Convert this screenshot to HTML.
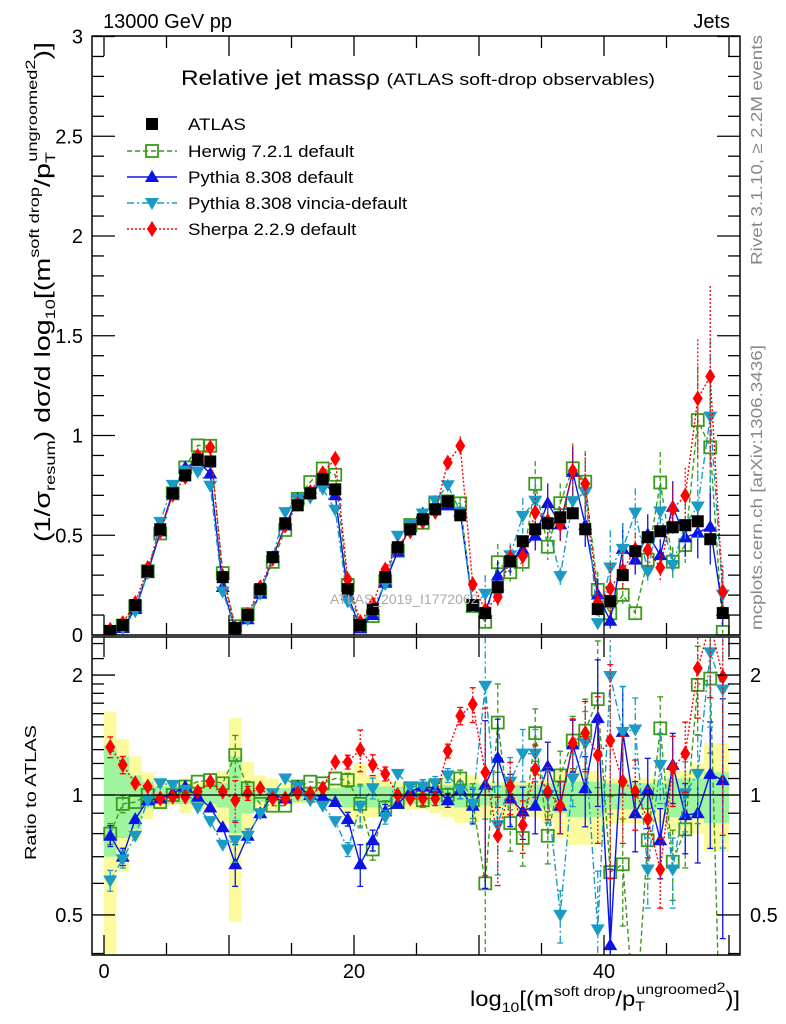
<!DOCTYPE html>
<html><head><meta charset="utf-8">
<style>
html,body{margin:0;padding:0;background:#fff;width:786px;height:1024px;overflow:hidden;}
svg{display:block;font-family:"Liberation Sans",Arial,sans-serif;}
</style></head>
<body>
<svg id="chart" width="786" height="1024" viewBox="0 0 786 1024" xmlns="http://www.w3.org/2000/svg">
<defs>
<clipPath id="clipMain"><rect x="92" y="36" width="648" height="599"/></clipPath>
<clipPath id="clipRatio"><rect x="92" y="637" width="648" height="318"/></clipPath>
</defs>
<text x="103" y="28" font-size="20">13000 GeV pp</text>
<text x="730" y="28" font-size="20" text-anchor="end">Jets</text>
<g id="ratioBands" clip-path="url(#clipRatio)"></g>
<g id="mainMarks" clip-path="url(#clipMain)"></g>
<g id="ratioMarks" clip-path="url(#clipRatio)"></g>
<g id="axes"></g>
<text x="181" y="85" font-size="21" textLength="474" lengthAdjust="spacingAndGlyphs">Relative jet massρ <tspan font-size="17">(ATLAS soft-drop observables)</tspan></text>
<text x="330" y="604" font-size="14" fill="#aaa">ATLAS_2019_I1772062</text>
<g id="legend"></g>
<text transform="translate(762,265) rotate(-90)" font-size="16" fill="#888" textLength="230" lengthAdjust="spacingAndGlyphs">Rivet 3.1.10, ≥ 2.2M events</text>
<text transform="translate(762,630) rotate(-90)" font-size="16" fill="#888" textLength="285" lengthAdjust="spacingAndGlyphs">mcplots.cern.ch [arXiv:1306.3436]</text>
<text transform="translate(50,542) rotate(-90)" font-size="22" textLength="500" lengthAdjust="spacingAndGlyphs">(1/σ<tspan font-size="14" dy="5">resum</tspan><tspan dy="-5">) dσ/d log</tspan><tspan font-size="14" dy="5">10</tspan><tspan dy="-5">[(m</tspan><tspan font-size="14" dy="-11">soft drop</tspan><tspan dy="11">/p</tspan><tspan font-size="14" dy="5">T</tspan><tspan font-size="14" dy="-18" dx="-7">ungroomed</tspan><tspan font-size="14" dy="-2">2</tspan><tspan dy="15">)]</tspan></text>
<text transform="translate(36,860) rotate(-90)" font-size="16" textLength="135" lengthAdjust="spacingAndGlyphs">Ratio to ATLAS</text>
<text x="470" y="1006" font-size="21" textLength="270" lengthAdjust="spacingAndGlyphs">log<tspan font-size="14" dy="6">10</tspan><tspan dy="-6">[(m</tspan><tspan font-size="14" dy="-10">soft drop</tspan><tspan dy="10">/p</tspan><tspan font-size="14" dy="5">T</tspan><tspan font-size="14" dy="-17" dx="-7">ungroomed</tspan><tspan font-size="14" dy="-2">2</tspan><tspan dy="14">)]</tspan></text>
</svg>
<script>
const atlas=[0.02,0.05,0.15,0.32,0.53,0.71,0.80,0.88,0.87,0.29,0.035,0.10,0.23,0.39,0.56,0.65,0.71,0.78,0.73,0.23,0.05,0.13,0.29,0.44,0.53,0.58,0.63,0.67,0.60,0.15,0.11,0.24,0.37,0.47,0.53,0.56,0.59,0.61,0.53,0.13,0.17,0.30,0.42,0.49,0.52,0.54,0.55,0.57,0.48,0.11];
const herwigRatio=[0.80,0.95,0.96,1.0,0.96,1.0,1.05,1.08,1.09,1.07,1.26,1.04,0.95,0.94,0.94,1.05,1.08,1.07,1.10,1.09,0.95,0.73,0.93,0.96,1.04,0.97,1.05,1.0,1.10,0.97,0.60,1.52,0.85,0.78,1.43,0.79,1.12,1.37,1.45,1.74,0.64,0.67,0.26,0.77,1.47,0.68,0.82,1.89,1.96,0.14];
const pythiaRatio=[0.79,0.70,0.87,0.97,0.98,1.01,1.05,0.99,0.93,0.83,0.67,0.79,0.90,1.0,0.98,1.05,1.0,0.99,0.96,0.87,0.67,0.77,0.91,0.95,1.02,1.05,1.04,0.97,1.03,0.94,1.06,1.24,0.98,0.91,0.94,1.18,0.94,1.34,1.04,1.56,0.42,1.44,0.90,1.03,0.77,1.19,0.89,0.90,1.13,1.09];
const vinciaRatio=[0.61,0.69,0.79,0.97,1.07,1.06,1.03,0.93,0.86,0.75,0.77,0.79,0.90,1.01,1.10,1.05,0.97,0.94,0.86,0.73,0.94,1.04,0.88,1.13,1.05,1.05,1.07,1.12,1.03,0.95,1.88,0.84,1.08,1.27,1.27,1.0,0.50,1.10,1.35,0.46,1.99,1.44,1.46,0.65,1.19,0.65,1.01,1.13,2.28,1.84];
const sherpaRatio=[1.32,1.19,1.07,1.05,0.98,0.99,0.99,1.02,1.08,1.02,0.97,1.01,1.04,0.98,0.98,1.01,1.01,1.04,1.21,1.21,1.30,1.19,1.13,1.0,0.98,0.98,0.98,1.29,1.58,1.69,1.14,0.79,1.05,0.84,1.16,1.02,0.94,1.35,1.43,1.26,1.37,1.08,1.02,0.87,0.65,1.17,1.27,2.08,2.70,1.98];
const mcErr=[0.06,0.05,0.03,0.02,0.02,0.02,0.02,0.02,0.02,0.03,0.12,0.04,0.03,0.02,0.02,0.02,0.02,0.02,0.02,0.04,0.12,0.06,0.04,0.03,0.03,0.04,0.04,0.04,0.05,0.10,0.45,0.25,0.15,0.15,0.15,0.15,0.15,0.15,0.20,0.40,0.55,0.30,0.20,0.20,0.20,0.20,0.20,0.25,0.35,0.60];
const yellowHi=[1.62,1.38,1.25,1.14,1.10,1.06,1.10,1.08,1.07,1.15,1.56,1.21,1.12,1.10,1.07,1.05,1.05,1.05,1.05,1.15,1.20,1.12,1.08,1.08,1.08,1.08,1.10,1.12,1.12,1.12,1.08,1.08,1.08,1.08,1.08,1.10,1.15,1.15,1.15,1.15,1.10,1.10,1.10,1.10,1.10,1.15,1.15,1.20,1.35,1.35];
const yellowLo=[0.40,0.64,0.77,0.87,0.92,0.94,0.90,0.92,0.90,0.85,0.48,0.78,0.92,0.92,0.94,0.95,0.95,0.95,0.95,0.88,0.85,0.88,0.92,0.92,0.92,0.92,0.90,0.88,0.85,0.85,0.88,0.88,0.88,0.88,0.88,0.85,0.78,0.75,0.75,0.75,0.85,0.85,0.85,0.85,0.85,0.80,0.80,0.80,0.72,0.72];
const greenHi=[1.33,1.25,1.12,1.08,1.05,1.05,1.05,1.05,1.05,1.07,1.25,1.07,1.04,1.04,1.04,1.04,1.04,1.04,1.04,1.06,1.06,1.06,1.05,1.05,1.05,1.05,1.06,1.06,1.07,1.07,1.06,1.06,1.06,1.06,1.06,1.07,1.08,1.08,1.08,1.08,1.07,1.07,1.07,1.07,1.07,1.10,1.10,1.10,1.14,1.14];
const greenLo=[0.70,0.78,0.82,0.93,0.95,0.95,0.95,0.95,0.95,0.93,0.80,0.90,0.96,0.96,0.96,0.96,0.96,0.96,0.96,0.93,0.93,0.93,0.95,0.95,0.95,0.95,0.94,0.94,0.93,0.93,0.94,0.94,0.94,0.94,0.94,0.93,0.90,0.88,0.88,0.88,0.92,0.92,0.92,0.92,0.92,0.88,0.88,0.88,0.85,0.85];
const xTickLabels=["0","20","40"];
const yTickLabels=["0","0.5","1","1.5","2","2.5","3"];
const ratioTickLabels=["0.5","1","2"];

const NS="http://www.w3.org/2000/svg";
function xs(v){return 104+12.5*v;}
function ym(v){return 635-199.5*v;}
function yr(r){return 795-173*Math.log(r);}
function mk(tag,attrs,parent){const e=document.createElementNS(NS,tag);for(const k in attrs)e.setAttribute(k,attrs[k]);parent.appendChild(e);return e;}
const axes=document.getElementById('axes');
const mainG=document.getElementById('mainMarks');
const ratioG=document.getElementById('ratioMarks');
const bandG=document.getElementById('ratioBands');

let f1=mk('rect',{x:92,y:36,width:648,height:599,fill:'none',stroke:'#000','stroke-width':1.5},axes);


let f2=mk('rect',{x:92,y:637,width:648,height:318,fill:'none',stroke:'#000','stroke-width':1.5},axes);


for(let v=0;v<=50;v+=5){
  const x=xs(v),L=(v%10===0)?20:12;
  [[635,-1],[637,1],[955,-1],[36,1]].forEach(([y0,d])=>{mk('line',{x1:x,x2:x,y1:y0,y2:y0+d*L,stroke:'#000','stroke-width':1.3},axes);});
}
xTickLabels.forEach(s=>{const t=mk('text',{x:xs(+s),y:978,'font-size':20,'text-anchor':'middle'},axes);t.textContent=s;

});
for(let i=0;i<=30;i++){const v=i/10,y=ym(v),L=(i%5===0)?23:12;
  mk('line',{x1:92,x2:92+L,y1:y,y2:y,stroke:'#000','stroke-width':1.3},axes);
  mk('line',{x1:740,x2:740-L,y1:y,y2:y,stroke:'#000','stroke-width':1.3},axes);}
yTickLabels.forEach(s=>{const t=mk('text',{x:83,y:ym(+s)+7,'font-size':20,'text-anchor':'end'},axes);t.textContent=s;

});
[0.4,0.5,0.6,0.7,0.8,0.9,1,1.1,1.2,1.3,1.4,1.5,1.6,1.7,1.8,1.9,2,2.2,2.4].forEach(r=>{const y=yr(r);if(y<637||y>955)return;
  const L=(r===0.5||r===1||r===2)?23:12;
  mk('line',{x1:92,x2:92+L,y1:y,y2:y,stroke:'#000','stroke-width':1.3},axes);
  mk('line',{x1:740,x2:740-L,y1:y,y2:y,stroke:'#000','stroke-width':1.3},axes);});
ratioTickLabels.forEach(s=>{const y=yr(+s)+7;
  const t=mk('text',{x:83,y:y,'font-size':20,'text-anchor':'end'},axes);t.textContent=s;
  
  
  const t2=mk('text',{x:750,y:y,'font-size':20},axes);t2.textContent=s;
  
  });

atlas.forEach((a,i)=>{
  const x0=xs(i),w=12.5;
  const yb=mk('rect',{x:x0,y:yr(yellowHi[i]),width:w,height:yr(yellowLo[i])-yr(yellowHi[i]),fill:'#fbfb9e'},bandG);
  
  
  const gb=mk('rect',{x:x0,y:yr(greenHi[i]),width:w,height:yr(greenLo[i])-yr(greenHi[i]),fill:'#9ef59e'},bandG);
  
  
});
mk('line',{x1:92,x2:740,y1:yr(1),y2:yr(1),stroke:'#000','stroke-width':1.3},axes);

function marker(g,type,x,y,col){
  if(type==='sq')return mk('rect',{x:x-6,y:y-6,width:12,height:12,fill:'#000'},g);
  if(type==='osq')return mk('rect',{x:x-6,y:y-6,width:12,height:12,fill:'#fff','fill-opacity':0,stroke:col,'stroke-width':1.8},g);
  if(type==='up')return mk('polygon',{points:`${x},${y-7} ${x-7},${y+5} ${x+7},${y+5}`,fill:col},g);
  if(type==='dn')return mk('polygon',{points:`${x},${y+7} ${x-7},${y-5} ${x+7},${y-5}`,fill:col},g);
  return mk('polygon',{points:`${x},${y-8} ${x-5},${y} ${x},${y+8} ${x+5},${y}`,fill:col},g);
}
const series=[
 {name:'herwig',ratio:herwigRatio,col:'#3c9a1a',type:'osq',dash:'5,3'},
 {name:'pythia',ratio:pythiaRatio,col:'#0a14e6',type:'up',dash:''},
 {name:'vincia',ratio:vinciaRatio,col:'#1a9bc4',type:'dn',dash:'7,3,2,3'},
 {name:'sherpa',ratio:sherpaRatio,col:'#f00',type:'dia',dash:'2,2'}
];
series.forEach(s=>{
  const vals=atlas.map((a,i)=>a*s.ratio[i]);
  const ptsM=vals.map((v,i)=>`${xs(i+0.5)},${ym(v)}`).join(' ');
  const ptsR=s.ratio.map((r,i)=>`${xs(i+0.5)},${yr(r)}`).join(' ');
  const lm=mk('polyline',{points:ptsM,fill:'none',stroke:s.col,'stroke-width':1.4,'stroke-dasharray':s.dash},mainG);
  
  
  const lr=mk('polyline',{points:ptsR,fill:'none',stroke:s.col,'stroke-width':1.4,'stroke-dasharray':s.dash},ratioG);
  
  
  vals.forEach((v,i)=>{
    const x=xs(i+0.5),e=mcErr[i];
    if(e>0.03){
      const r=s.ratio[i];
      mk('line',{x1:x,x2:x,y1:ym(v*(1+e)),y2:ym(Math.max(0,v*(1-e))),stroke:s.col,'stroke-width':1.3,'stroke-dasharray':s.dash},mainG);
      mk('line',{x1:x,x2:x,y1:yr(r*(1+e)),y2:yr(Math.max(0.05,r*(1-e))),stroke:s.col,'stroke-width':1.3,'stroke-dasharray':s.dash},ratioG);
      [yr(r*(1+e)),yr(Math.max(0.05,r*(1-e)))].forEach(yy=>mk('line',{x1:x-3,x2:x+3,y1:yy,y2:yy,stroke:s.col,'stroke-width':1.3},ratioG));
    }
    const m=marker(mainG,s.type,x,ym(v),s.col);
    
    
    const m2=marker(ratioG,s.type,x,yr(s.ratio[i]),s.col);
    
    
  });
});
atlas.forEach((a,i)=>{
  const m=marker(mainG,'sq',xs(i+0.5),ym(a),'#000');
  
  
});

const leg=document.getElementById('legend');
const legItems=[['ATLAS','sq','#000',null],['Herwig 7.2.1 default','osq','#3c9a1a','5,3'],['Pythia 8.308 default','up','#0a14e6',''],['Pythia 8.308 vincia-default','dn','#1a9bc4','7,3,2,3'],['Sherpa 2.2.9 default','dia','#f00','2,2']];
const legY=[124,151,177,203,229];
legItems.forEach((it,k)=>{
  const y=legY[k];
  const g=mk('g',{},leg);
  
  
  if(it[3]!==null)mk('line',{x1:127,x2:177,y1:y,y2:y,stroke:it[2],'stroke-width':1.4,'stroke-dasharray':it[3]},g);
  marker(g,it[1],152,y,it[2]);
  const t=mk('text',{x:188,y:y+6,'font-size':17,transform:`translate(188,0) scale(1.1,1) translate(-188,0)`},g);t.textContent=it[0];
});
</script>
</body></html>
